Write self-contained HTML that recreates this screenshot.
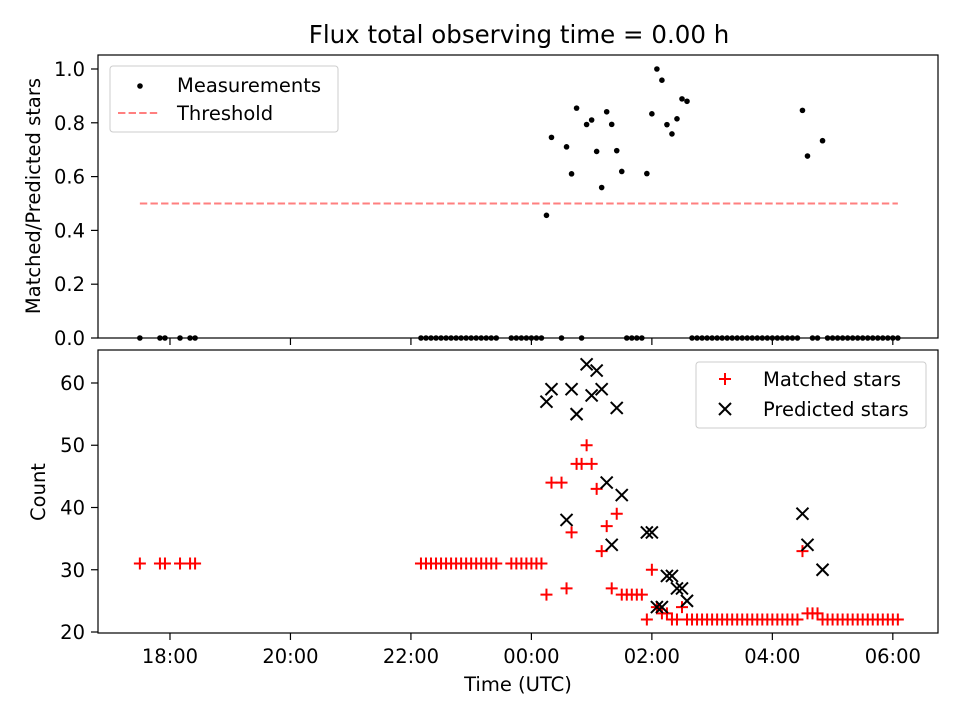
<!DOCTYPE html>
<html><head><meta charset="utf-8"><style>
body{margin:0;background:#fff;}
svg{display:block;font-family:"DejaVu Sans","Liberation Sans",sans-serif;}
</style></head><body>
<svg id="chart" width="960" height="720" viewBox="0 0 960 720" xmlns="http://www.w3.org/2000/svg">
<rect width="960" height="720" fill="#fff"/>
<text x="519" y="43" font-size="24.5" text-anchor="middle">Flux total observing time = 0.00 h</text>
<g id="topg"></g><g id="botg"></g>
<text transform="translate(40,196) rotate(-90)" font-size="19.5" text-anchor="middle">Matched/Predicted stars</text>
<text transform="translate(45,492) rotate(-90)" font-size="19.5" text-anchor="middle">Count</text>
<text x="518" y="691" font-size="19.5" text-anchor="middle">Time (UTC)</text>
<g>
<rect x="110" y="66" width="228" height="66" rx="3" fill="#fff" fill-opacity="0.8" stroke="#ccc"/>
<circle cx="140" cy="86" r="2.8" fill="#000"/>
<text x="177" y="92" font-size="19.5">Measurements</text>
<line x1="118" x2="160" y1="113" y2="113" stroke="#ff7f7f" stroke-width="2" stroke-dasharray="7.4,3.2"/>
<text x="177" y="120" font-size="19.5">Threshold</text>
</g>
<g>
<rect x="696" y="362" width="230" height="66" rx="3" fill="#fff" fill-opacity="0.8" stroke="#ccc"/>
<path d="M719,379H731M725,373V385" stroke="#f00" stroke-width="2"/>
<text x="763" y="386" font-size="19.5">Matched stars</text>
<path d="M719,403L731,415M719,415L731,403" stroke="#000" stroke-width="2"/>
<text x="763" y="416" font-size="19.5">Predicted stars</text>
</g>
</svg>
<script>
// time in minutes relative to 00:00 UTC
const timesMin = [-390,-370,-365,-350,-340,-335,
-110,-105,-100,-95,-90,-85,-80,-75,-70,-65,-60,-55,-50,-45,-40,-35,
-20,-15,-10,-5,0,5,10,
15,20,30,35,40,45,50,55,60,65,70,75,80,85,90,95,100,105,110,
115,120,125,130,135,140,145,150,155,
160,165,170,175,180,185,190,195,200,205,210,215,220,225,230,235,240,245,250,255,260,265,
270,275,280,285,290,
295,300,305,310,315,320,325,330,335,340,345,350,355,360,365];
const matched = [31,31,31,31,31,31,
31,31,31,31,31,31,31,31,31,31,31,31,31,31,31,31,
31,31,31,31,31,31,31,
26,44,44,27,36,47,47,50,47,43,33,37,27,39,26,26,26,26,26,
22,30,24,23,23,22,22,24,22,
22,22,22,22,22,22,22,22,22,22,22,22,22,22,22,22,22,22,22,22,22,22,
33,23,23,23,22,
22,22,22,22,22,22,22,22,22,22,22,22,22,22,22];
const predicted = [null,null,null,null,null,null,
null,null,null,null,null,null,null,null,null,null,null,null,null,null,null,null,
null,null,null,null,null,null,null,
57,59,null,38,59,55,null,63,58,62,59,44,34,56,42,null,null,null,null,
36,36,24,24,29,29,27,27,25,
null,null,null,null,null,null,null,null,null,null,null,null,null,null,null,null,null,null,null,null,null,null,
39,34,null,null,30,
null,null,null,null,null,null,null,null,null,null,null,null,null,null,null];
const threshold = 0.5;
const thresholdSpan = [-390, 365];
const xTickMin = [-360,-240,-120,0,120,240,360];
const xTickLabels = ["18:00","20:00","22:00","00:00","02:00","04:00","06:00"];
const topTicks = [0,0.2,0.4,0.6,0.8,1.0];
const topTickLabels = ["0.0","0.2","0.4","0.6","0.8","1.0"];
const botTicks = [20,30,40,50,60];
const botTickLabels = ["20","30","40","50","60"];

const NS="http://www.w3.org/2000/svg";
const L=98,R=938;
const xmin=-431.7,xmax=405;
const X=m=>L+(m-xmin)/(xmax-xmin)*(R-L);
const TT=55,TB=338,tymin=0,tymax=1.052;
const YT=v=>TB-(v-tymin)/(tymax-tymin)*(TB-TT);
const BT=350,BB=633,bymin=19.84,bymax=65.3;
const YB=v=>BB-(v-bymin)/(bymax-bymin)*(BB-BT);
function mk(tag,attrs,parent){const e=document.createElementNS(NS,tag);for(const k in attrs)e.setAttribute(k,attrs[k]);parent.appendChild(e);return e;}
const gTop=document.getElementById('topg'),gBot=document.getElementById('botg');
const FS=19.5, M=6;

const th=mk('line',{x1:X(thresholdSpan[0]),x2:X(thresholdSpan[1]),y1:YT(threshold),y2:YT(threshold),stroke:'#ff7f7f','stroke-width':2,'stroke-dasharray':'7.4,3.2'},gTop);


for(let i=0;i<timesMin.length;i++){
  const r=predicted[i]?matched[i]/predicted[i]:0;
  const c=mk('circle',{cx:X(timesMin[i]),cy:YT(r),r:2.8,fill:'#000'},gTop);
  
  
}
for(let i=0;i<timesMin.length;i++){
  const x=X(timesMin[i]),y=YB(matched[i]);
  const p=mk('path',{d:`M${x-M},${y}H${x+M}M${x},${y-M}V${y+M}`,stroke:'#f00','stroke-width':2,fill:'none'},gBot);
  
  
}
for(let i=0;i<timesMin.length;i++){
  if(predicted[i]==null)continue;
  const x=X(timesMin[i]),y=YB(predicted[i]);
  const p=mk('path',{d:`M${x-M},${y-M}L${x+M},${y+M}M${x-M},${y+M}L${x+M},${y-M}`,stroke:'#000','stroke-width':2,fill:'none'},gBot);
  
  
}
const f1=mk('rect',{x:L,y:TT,width:R-L,height:TB-TT,fill:'none',stroke:'#000','stroke-width':1.2},gTop);


const f2=mk('rect',{x:L,y:BT,width:R-L,height:BB-BT,fill:'none',stroke:'#000','stroke-width':1.2},gBot);


xTickMin.forEach((m,i)=>{
  const x=X(m);
  const t1=mk('line',{x1:x,x2:x,y1:TB,y2:TB+7,stroke:'#000','stroke-width':1.2},gTop);
  
  
  const t2=mk('line',{x1:x,x2:x,y1:BB,y2:BB+7,stroke:'#000','stroke-width':1.2},gBot);
  
  
  const tx=mk('text',{x:x,y:BB+30,'font-size':FS,'text-anchor':'middle'},gBot);
  tx.textContent=xTickLabels[i];
  
  
});
topTicks.forEach((v,i)=>{
  const y=YT(v);
  const t=mk('line',{x1:L-7,x2:L,y1:y,y2:y,stroke:'#000','stroke-width':1.2},gTop);
  
  
  const tx=mk('text',{x:L-13,y:y+7,'font-size':FS,'text-anchor':'end'},gTop);
  tx.textContent=topTickLabels[i];
  
  
});
botTicks.forEach((v,i)=>{
  const y=YB(v);
  const t=mk('line',{x1:L-7,x2:L,y1:y,y2:y,stroke:'#000','stroke-width':1.2},gBot);
  
  
  const tx=mk('text',{x:L-13,y:y+7,'font-size':FS,'text-anchor':'end'},gBot);
  tx.textContent=botTickLabels[i];
  
  
});
</script>
</body></html>
